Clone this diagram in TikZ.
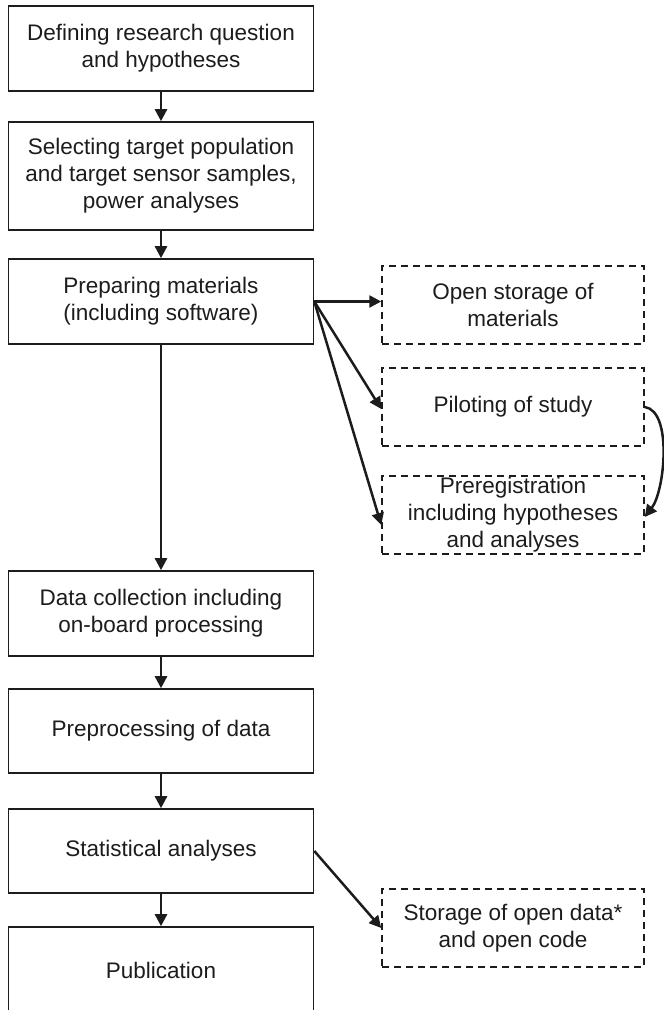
\documentclass[tikz,border=0pt]{standalone}
\usepackage{fontspec}
\setmainfont{Liberation Sans}
\usetikzlibrary{arrows.meta}
\definecolor{ink}{HTML}{1C1C1C}
\tikzset{
  stepbox/.style={draw=ink, line width=1.6pt, minimum width=305pt, align=center,
    text=ink, font=\fontsize{22.5}{27}\selectfont, inner sep=0pt},
  optbox/.style={draw=ink, line width=1.5pt, dash pattern=on 7pt off 5pt,
    minimum width=262pt, minimum height=78pt, align=center, text=ink,
    font=\fontsize{22.5}{27}\selectfont, inner sep=0pt},
  flow/.style={draw=ink, line width=2.5pt, -{Triangle[length=12pt,width=12pt]}},
}
\begin{document}
\begin{tikzpicture}[x=1pt, y=-1pt]
\useasboundingbox (0,0) rectangle (664,1010);

% main chain of steps
\node[stepbox, minimum height=85pt]  (def)  at (161,48.5) {Defining research question\\and hypotheses};
\node[stepbox, minimum height=108pt] (sel)  at (161,176)  {Selecting target population\\and target sensor samples,\\power analyses};
\node[stepbox, minimum height=85pt]  (prep) at (161,301.5) {Preparing materials\\(including software)};
\node[stepbox, minimum height=85pt]  (coll) at (161,613.5) {Data collection including\\on-board processing};
\node[stepbox, minimum height=84pt]  (pre)  at (161,731)  {Preprocessing of data};
\node[stepbox, minimum height=84pt]  (stat) at (161,851)  {Statistical analyses};
\node[stepbox, minimum height=86pt]  (pub)  at (161,970)  {Publication};

% optional open-science steps
\node[optbox] (store) at (513,305) {Open storage of\\materials};
\node[optbox] (pilot) at (513,407) {Piloting of study};
\node[optbox] (prereg) at (513,515) {Preregistration\\including hypotheses\\and analyses};
\node[optbox] (data) at (513,928) {Storage of open data*\\and open code};

% connectors
\draw[flow] (def) -- (sel);
\draw[flow] (sel) -- (prep);
\draw[flow] (prep) -- (coll);
\draw[flow] (coll) -- (pre);
\draw[flow] (pre) -- (stat);
\draw[flow] (stat) -- (pub);

\coordinate (fan) at (prep.east);
\draw[flow] (fan) -- (store.west |- fan);
\draw[flow] (fan) -- ([yshift=-2pt]pilot.west);
\draw[flow] (fan) -- ([yshift=-10pt]prereg.west);
\draw[flow] (stat.east) -- (data.west);

\draw[flow] (pilot.east) .. controls +(28,4) and +(20,-26) .. ([yshift=-2pt]prereg.east);
\end{tikzpicture}
\end{document}
